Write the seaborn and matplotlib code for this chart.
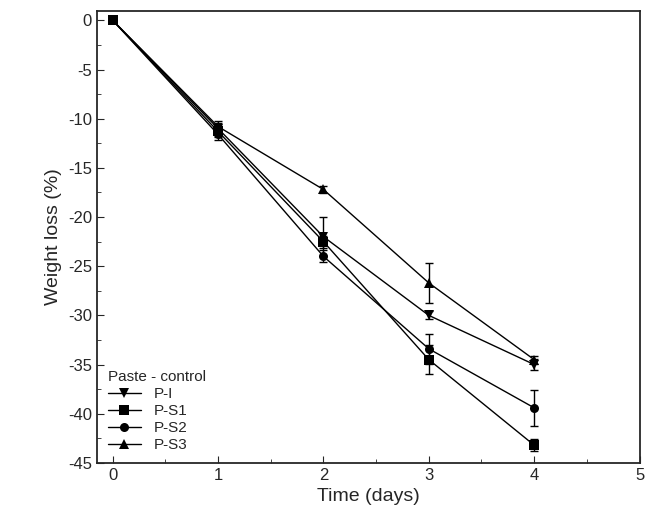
import numpy as np
import pandas as pd
import matplotlib
matplotlib.use('Agg')
import matplotlib.pyplot as plt
import seaborn as sns
from matplotlib.ticker import AutoMinorLocator

days = [0, 1, 2, 3, 4]
series = ['P-I', 'P-S1', 'P-S2', 'P-S3']
markers = ['v', 's', 'o', '^']
p_i = [0, -11.0, -22.0, -30.0, -35.0]
p_s1 = [0, -11.3, -22.5, -34.5, -43.2]
p_s2 = [0, -11.6, -24.0, -33.4, -39.4]
p_s3 = [0, -10.8, -17.2, -26.7, -34.5]
err_i = [0, 0.6, 2.0, 0.4, 0.6]
err_s1 = [0, 0.6, 0.6, 1.5, 0.6]
err_s2 = [0, 0.6, 0.6, 1.5, 1.8]
err_s3 = [0, 0.6, 0.4, 2.0, 0.4]

df = pd.DataFrame({
    'day': days * 4,
    'loss': p_i + p_s1 + p_s2 + p_s3,
    'err': err_i + err_s1 + err_s2 + err_s3,
    'series': sum([[s] * 5 for s in series], []),
})

sns.set_style('ticks')
plt.rcParams['font.family'] = ['Liberation Sans', 'DejaVu Sans']
plt.rcParams['axes.unicode_minus'] = False
fig, ax = plt.subplots(figsize=(6.46, 5.26), dpi=100)
for s, m in zip(series, markers):
    d = df[df.series == s]
    sns.lineplot(x=d.day.values, y=d.loss.values, color='black', marker=m,
                 markersize=6.5, markeredgewidth=0, linewidth=1, label=s, ax=ax)
    ax.errorbar(d.day, d.loss, yerr=d.err, fmt='none', ecolor='black', capsize=3, elinewidth=1)

ax.set_xlim(-0.15, 5)
ax.set_ylim(-45, 1)
ax.set_xticks(range(0, 6))
ax.set_yticks(range(0, -46, -5))
ax.xaxis.set_minor_locator(AutoMinorLocator(2))
ax.yaxis.set_minor_locator(AutoMinorLocator(2))
ax.tick_params(which='both', direction='in', top=False, right=False, labelsize=12)
ax.tick_params(which='major', length=5)
ax.tick_params(which='minor', length=3)
for sp in ax.spines.values():
    sp.set_linewidth(1.3)
ax.set_xlabel('Time (days)', fontsize=14)
ax.set_ylabel('Weight loss (%)', fontsize=14)
leg = ax.legend(title='Paste - control', loc='lower left', frameon=False,
                fontsize=11, title_fontsize=11, handlelength=2.2,
                labelspacing=0.2, borderaxespad=0.3)
leg._legend_box.align = 'left'
fig.subplots_adjust(left=0.15, right=0.99, top=0.98, bottom=0.12)
fig.savefig('out.png', dpi=100)
